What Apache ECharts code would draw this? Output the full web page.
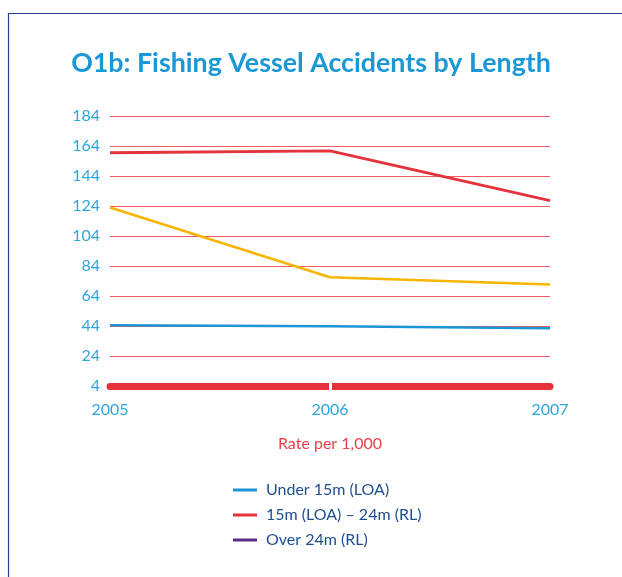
<!DOCTYPE html>
<html><head><meta charset="utf-8">
<script src="https://cdn.jsdelivr.net/npm/echarts@6/dist/echarts.min.js"></script>
<style>html,body{margin:0;padding:0;background:#fff}#c{width:622px;height:577px}</style>
</head><body><div id="c"></div>
<script>
const years = ['2005', '2006', '2007'];
const under15 = [44.5, 43.8, 42.5];
const mid15to24 = [159.5, 160.7, 127.6];
const over24 = [123, 76.5, 71.6];
const seriesNames = ['Under 15m (LOA)', '15m (LOA) \u2013 24m (RL)', 'Over 24m (RL)'];
const yMin = 4, yMax = 184, yStep = 20;

const FONT = 'Lato';
const chart = echarts.init(document.getElementById('c'), null, {renderer: 'canvas'});
const tickOnlyMiddle = (i) => i === 1;
chart.setOption({
  animation: false,
  graphic: [{type: 'rect', shape: {x: 8.5, y: 13.5, width: 700, height: 700},
    style: {fill: 'none', stroke: '#23418c', lineWidth: 1.2}, z: -1}],
  title: {text: 'O1b: Fishing Vessel Accidents by Length', left: 'center', top: 45,
    textStyle: {color: '#1a98d5', fontFamily: FONT, fontWeight: 'bold', fontSize: 26.8}},
  grid: {left: 110, right: 72, top: 116, bottom: 191},
  legend: {orient: 'vertical', left: 228, top: 477, itemWidth: 24, itemHeight: 3, itemGap: 9,
    icon: 'rect',
    textStyle: {color: '#1f4f8f', fontFamily: FONT, fontSize: 16, padding: [0, 0, 0, 4]},
    data: [
      {name: seriesNames[0]},
      {name: seriesNames[1]},
      {name: seriesNames[2], itemStyle: {color: '#5a2a87'}}
    ]},
  xAxis: [{
    type: 'category', data: years, boundaryGap: false,
    name: 'Rate per 1,000', nameLocation: 'middle', nameGap: 50,
    nameTextStyle: {color: '#e8414a', fontFamily: FONT, fontSize: 16},
    axisLine: {lineStyle: {color: '#e5323b', width: 7, cap: 'round'}},
    axisTick: {show: true, interval: tickOnlyMiddle, length: 4, lineStyle: {color: '#fff', width: 3}},
    axisLabel: {color: '#2ea5de', fontFamily: FONT, fontSize: 16, margin: 16},
    splitLine: {show: false}, z: 5
  }, {
    type: 'category', data: years, boundaryGap: false, position: 'bottom',
    axisLine: {show: false},
    axisTick: {show: true, inside: true, interval: tickOnlyMiddle, length: 4, lineStyle: {color: '#fff', width: 3}},
    axisLabel: {show: false}, z: 6
  }],
  yAxis: {
    type: 'value', min: yMin, max: yMax, interval: yStep,
    axisLine: {show: false}, axisTick: {show: false},
    axisLabel: {color: '#2ea5de', fontFamily: FONT, fontSize: 16, margin: 10},
    splitLine: {lineStyle: {color: '#ef5a62', width: 1}}
  },
  series: [
    {name: seriesNames[0], type: 'line', data: under15, symbol: 'none', color: '#1b95d3',
      lineStyle: {width: 2.5}, z: 3},
    {name: seriesNames[1], type: 'line', data: mid15to24, symbol: 'none', color: '#e3333c',
      lineStyle: {width: 2.8}, z: 3},
    {name: seriesNames[2], type: 'line', data: over24, symbol: 'none', color: '#f7b400',
      lineStyle: {width: 2.5}, z: 3}
  ]
});
</script></body></html>
